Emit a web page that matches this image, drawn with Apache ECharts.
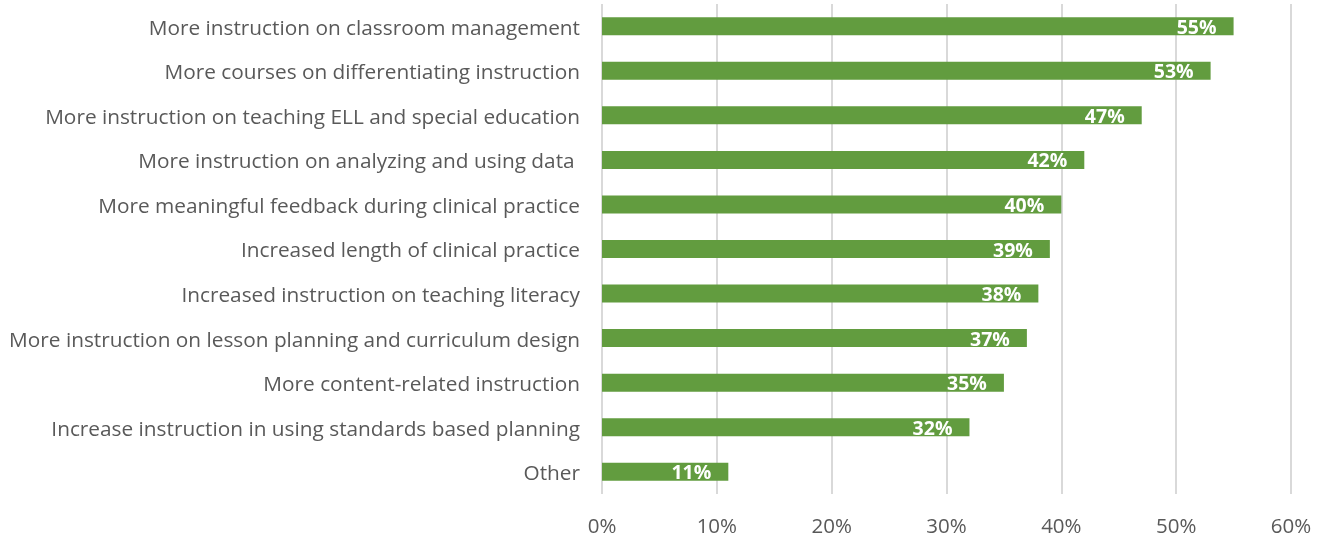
<!DOCTYPE html>
<html>
<head>
<meta charset="utf-8">
<script src="https://cdn.jsdelivr.net/npm/echarts@6/dist/echarts.min.js"></script>
<style>
  html, body { margin: 0; padding: 0; background: #fff; }
  #chart { width: 1319px; height: 533px; }
</style>
</head>
<body>
<div id="chart"></div>
<script>
// categories listed bottom to top (category axis starts at the bottom)
const categories = [
  'Other',
  'Increase instruction in using standards based planning',
  'More content-related instruction',
  'More instruction on lesson planning and curriculum design',
  'Increased instruction on teaching literacy',
  'Increased length of clinical practice',
  'More meaningful feedback during clinical practice',
  'More instruction on analyzing and using data ',
  'More instruction on teaching ELL and special education',
  'More courses on differentiating instruction',
  'More instruction on classroom management'
]
const values = [11, 32, 35, 37, 38, 39, 40, 42, 47, 53, 55]
const ticks = [0, 10, 20, 30, 40, 50, 60]

const font = '"Open Sans", Lato, sans-serif'
const chart = echarts.init(document.getElementById('chart'))
chart.setOption({
  animation: false,
  grid: { left: 602, right: 28, top: 4, bottom: 39, outerBoundsMode: 'none' },
  xAxis: {
    type: 'value', min: ticks[0], max: ticks[ticks.length - 1], interval: 10,
    axisLine: { show: false }, axisTick: { show: false },
    axisLabel: { formatter: '{value}%', color: '#595959', fontSize: 20.5, fontFamily: font, margin: 23 },
    splitLine: { lineStyle: { color: '#d9d9d9', width: 2 } }
  },
  yAxis: {
    type: 'category', data: categories,
    axisLine: { show: false }, axisTick: { show: false },
    axisLabel: {
      margin: 22,
      formatter: v => '{t|' + v + '}',
      rich: {
        t: { color: '#595959', fontSize: 20.8, fontFamily: font, padding: [5, 0, 0, 0] }
      }
    }
  },
  series: [{
    type: 'bar', data: values, barWidth: 18,
    itemStyle: { color: '#629c3f' },
    label: {
      show: true, position: 'insideRight', distance: 17, formatter: '{c}%',
      color: '#fff', fontWeight: 'bold', fontSize: 19.5, fontFamily: font,
      offset: [0, 2]
    }
  }]
})
</script>
</body>
</html>
